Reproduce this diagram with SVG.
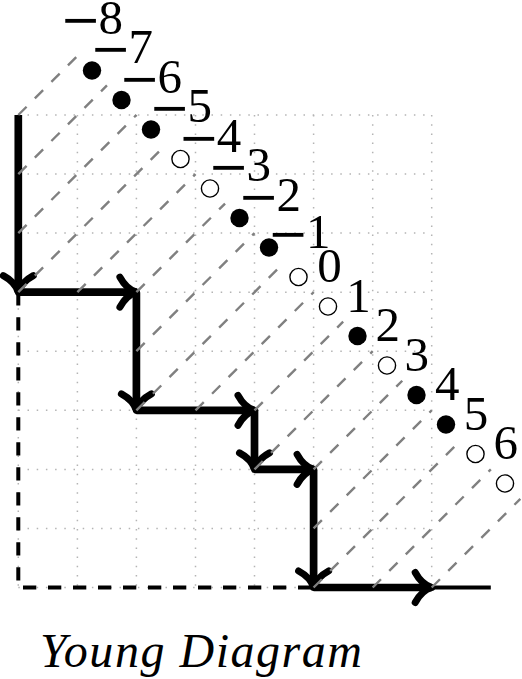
<svg xmlns="http://www.w3.org/2000/svg" width="522" height="679" viewBox="0 0 522 679">
<style>
.grid{stroke:#b4b4b4;stroke-width:1.5;stroke-dasharray:1.5 7.7;fill:none}
.diag{stroke:#808080;stroke-width:2.4;stroke-dasharray:11.7 11.7;fill:none}
.bold{stroke:#000;stroke-width:7.7;fill:none;marker-end:url(#ah)}
.bnd{stroke:#000;stroke-width:4;fill:none}
.full{fill:#000}
.empty{fill:#fff;stroke:#000;stroke-width:1.4}
.lbl{font-family:"Liberation Serif","DejaVu Serif",serif;font-size:49px;fill:#000}
.mid{text-anchor:middle}
.mn{font-family:"DejaVu Serif",serif}
.title{font-family:"Liberation Serif","DejaVu Serif",serif;font-style:italic;font-size:48px;fill:#000}
</style>
<defs>
<marker id="ah" markerUnits="userSpaceOnUse" orient="auto" overflow="visible" refX="0" refY="0" markerWidth="1" markerHeight="1">
<path d="M-16.5,-15 Q-10,-3 0,0 M-16.5,15 Q-10,3 0,0" fill="none" stroke="#000" stroke-width="7" stroke-linecap="round"/>
</marker>
</defs>
<g id="grid">
<path class="grid" d="M18.3,115H431.7M18.3,174.1H431.7M18.3,233.1H431.7M18.3,292.2H431.7M18.3,351.2H431.7M18.3,410.3H431.7M18.3,469.4H431.7M18.3,528.4H431.7M18.3,587.5H431.7"/>
<path class="grid" d="M18.3,115V587.5M77.4,115V587.5M136.4,115V587.5M195.5,115V587.5M254.5,115V587.5M313.6,115V587.5M372.7,115V587.5M431.7,115V587.5"/>
</g>
<g id="boundary">
<path class="bnd" d="M18.3,292.2V587.5H313.6" stroke-dasharray="13.3 11.7"/>
<path class="bnd" d="M431.7,587.5H490.8"/>
</g>
<g id="connectors">
<line class="bold" x1="18.3" y1="115" x2="18.3" y2="292.2"/>
<line class="bold" x1="18.3" y1="292.2" x2="136.4" y2="292.2"/>
<line class="bold" x1="136.4" y1="292.2" x2="136.4" y2="410.3"/>
<line class="bold" x1="136.4" y1="410.3" x2="254.5" y2="410.3"/>
<line class="bold" x1="254.5" y1="410.3" x2="254.5" y2="469.4"/>
<line class="bold" x1="254.5" y1="469.4" x2="313.6" y2="469.4"/>
<line class="bold" x1="313.6" y1="469.4" x2="313.6" y2="587.5"/>
<line class="bold" x1="313.6" y1="587.5" x2="431.7" y2="587.5"/>
</g>
<g id="diagonals">
<line class="diag" x1="18.3" y1="115" x2="77.4" y2="55.9"/>
<line class="diag" x1="18.3" y1="174.1" x2="106.95" y2="85.45"/>
<line class="diag" x1="18.3" y1="233.1" x2="136.45" y2="114.95"/>
<line class="diag" x1="18.3" y1="292.2" x2="166" y2="144.5"/>
<line class="diag" x1="77.4" y1="292.2" x2="195.55" y2="174.05"/>
<line class="diag" x1="136.4" y1="292.2" x2="225.05" y2="203.55"/>
<line class="diag" x1="136.4" y1="351.2" x2="254.55" y2="233.05"/>
<line class="diag" x1="136.4" y1="410.3" x2="284.1" y2="262.6"/>
<line class="diag" x1="195.5" y1="410.3" x2="313.65" y2="292.15"/>
<line class="diag" x1="254.5" y1="410.3" x2="343.15" y2="321.65"/>
<line class="diag" x1="254.5" y1="469.4" x2="372.7" y2="351.2"/>
<line class="diag" x1="313.6" y1="469.4" x2="402.25" y2="380.75"/>
<line class="diag" x1="313.6" y1="528.4" x2="431.75" y2="410.25"/>
<line class="diag" x1="313.6" y1="587.5" x2="461.3" y2="439.8"/>
<line class="diag" x1="372.7" y1="587.5" x2="490.85" y2="469.35"/>
<line class="diag" x1="431.7" y1="587.5" x2="520.35" y2="498.85"/>
</g>
<g id="dots">
<circle id="d-7" class="full" cx="92" cy="70.5" r="9.2"/>
<circle id="d-6" class="full" cx="121.5" cy="100" r="9.2"/>
<circle id="d-5" class="full" cx="151" cy="129.5" r="9.2"/>
<circle id="d-4" class="empty" cx="180.5" cy="159" r="8.6"/>
<circle id="d-3" class="empty" cx="210" cy="188.5" r="8.6"/>
<circle id="d-2" class="full" cx="239.5" cy="218" r="9.2"/>
<circle id="d-1" class="full" cx="269" cy="247.5" r="9.2"/>
<circle id="d0" class="empty" cx="298.5" cy="277" r="8.6"/>
<circle id="d1" class="empty" cx="328" cy="306.5" r="8.6"/>
<circle id="d2" class="full" cx="357.5" cy="336" r="9.2"/>
<circle id="d3" class="empty" cx="387" cy="365.5" r="8.6"/>
<circle id="d4" class="full" cx="416.5" cy="395" r="9.2"/>
<circle id="d5" class="full" cx="446" cy="424.5" r="9.2"/>
<circle id="d6" class="empty" cx="475.5" cy="454" r="8.6"/>
<circle id="d7" class="empty" cx="505" cy="483.5" r="8.6"/>
</g>
<g id="labels">
<text class="lbl" x="60" y="33.5"><tspan class="mn" dy="2">−</tspan><tspan dx="-2.5" dy="-2">8</tspan></text>
<text class="lbl" x="90" y="63"><tspan class="mn" dy="2">−</tspan><tspan dx="-2.5" dy="-2">7</tspan></text>
<text class="lbl" x="119" y="93"><tspan class="mn" dy="2">−</tspan><tspan dx="-2.5" dy="-2">6</tspan></text>
<text class="lbl" x="149" y="122"><tspan class="mn" dy="2">−</tspan><tspan dx="-2.5" dy="-2">5</tspan></text>
<text class="lbl" x="178.3" y="151.5"><tspan class="mn" dy="2">−</tspan><tspan dx="-2.5" dy="-2">4</tspan></text>
<text class="lbl" x="208" y="180.5"><tspan class="mn" dy="2">−</tspan><tspan dx="-2.5" dy="-2">3</tspan></text>
<text class="lbl" x="238" y="210.5"><tspan class="mn" dy="2">−</tspan><tspan dx="-2.5" dy="-2">2</tspan></text>
<text class="lbl" x="267.5" y="248"><tspan class="mn" dy="2">−</tspan><tspan dx="-2.5" dy="-2">1</tspan></text>
<text class="lbl mid" x="329.5" y="282">0</text>
<text class="lbl mid" x="358.5" y="311.5">1</text>
<text class="lbl mid" x="387.8" y="341">2</text>
<text class="lbl mid" x="416.7" y="370.5">3</text>
<text class="lbl mid" x="447.2" y="400">4</text>
<text class="lbl mid" x="476" y="429.5">5</text>
<text class="lbl mid" x="505.8" y="458.5">6</text>
</g>
<text id="title" class="title" x="40" y="667" textLength="322" lengthAdjust="spacing">Young Diagram</text>
</svg>
